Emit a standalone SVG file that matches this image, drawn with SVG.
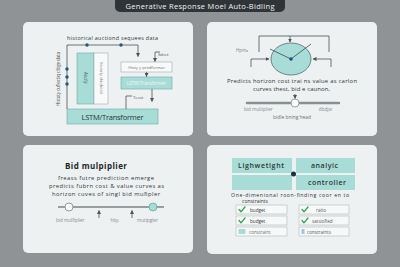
<svg xmlns="http://www.w3.org/2000/svg" width="400" height="267" viewBox="0 0 400 267">
<style>
.bg{fill:#8f9396}
.panel{fill:#eef1f2}
.teal{fill:#a8dcd6;stroke:#6aaaa4;stroke-width:0.6}
.tealf{fill:#a8dcd6}
.wbox{fill:#f8f9f9;stroke:#a3a9ac;stroke-width:0.6}
.ln{stroke:#4d5356;stroke-width:0.8;fill:none}
.t{font-family:"Open Sans","Liberation Sans",sans-serif;fill:#2f3436}
.g{fill:#858b8e}
.dot{fill:#1f5a7a}
.cb{fill:#f7f8f8;stroke:#b3b8bb;stroke-width:0.6}
.chk{fill:none;stroke:#2ea84c;stroke-width:1.3;stroke-linecap:round;stroke-linejoin:round}
</style>
<defs>
<marker id="ah" markerWidth="4" markerHeight="4" refX="3.5" refY="2" orient="auto" markerUnits="userSpaceOnUse"><path d="M0,0 L4,2 L0,4 z" fill="#4d5356"/></marker>
</defs>
<rect class="bg" x="0" y="0" width="400" height="267"/>

<g id="title">
<rect x="115" y="-6" width="170" height="18" rx="5" fill="#2e3438"/>
<text class="t" x="200" y="8.5" font-size="7.5" style="fill:#f0f2f2" text-anchor="middle" textLength="149">Generative Response Moel Auto-Bidling</text>
</g>

<!-- Panel 1 -->
<g id="panel-sequence">
<rect class="panel" x="23" y="22" width="170" height="114" rx="5"/>
<text class="t" x="112.5" y="40" font-size="5.4" text-anchor="middle" textLength="91">historical auctiond sequees data</text>
<text class="t" transform="translate(59.5,79) rotate(-90)" font-size="4.6" text-anchor="middle" textLength="54" style="fill:#4a5053">Histoty cuflectiq ciltige data</text>
</g>
<g id="node-auctiy">
<rect class="teal" x="77" y="53" width="17" height="51"/>
<text class="t" transform="translate(84,78) rotate(90)" font-size="4.5" font-style="italic" text-anchor="middle" style="fill:#3f6462">Auctiy</text>
</g>
<g id="node-historiy">
<rect class="wbox" x="94" y="53" width="14" height="51"/>
<text class="t g" transform="translate(99.5,78) rotate(90)" font-size="4" text-anchor="middle" style="fill:#7d8386">Historiy shiqhedd</text>
</g>
<g id="node-predformar">
<rect class="wbox" x="121" y="62" width="51" height="10"/>
<text class="t" x="146.5" y="68.8" font-size="4.2" text-anchor="middle" style="fill:#6c7275">Histy y predformar</text>
</g>
<g id="node-lstw">
<rect class="teal" x="121" y="77" width="51" height="12"/>
<text class="t" x="146.5" y="84.6" font-size="4.5" text-anchor="middle" style="fill:#f4f8f8">LSTW/Transformer</text>
</g>
<g id="node-lstm">
<rect class="teal" x="67" y="109" width="91" height="15"/>
<text class="t" x="112.5" y="119.5" font-size="7.5" text-anchor="middle" textLength="62" style="fill:#2c3436">LSTM/Transformer</text>
</g>
<g id="labels-p1">
<text class="t" x="158" y="55.5" font-size="4.3" style="fill:#555b5e">Sdsct</text>
<text class="t" x="133" y="98.5" font-size="4.3" style="fill:#555b5e">Tesst</text>
</g>

<!-- Panel 2 -->
<g id="panel-horizon">
<rect class="panel" x="207" y="22" width="170" height="114" rx="5"/>
<text class="t" x="236" y="52" font-size="4.5" style="fill:#7d8386">Hpmₐ</text>
<text class="t" x="292" y="83" font-size="5.9" text-anchor="middle" textLength="130">Predicts horizon cost trai ns value as carlon</text>
<text class="t" x="291.5" y="91" font-size="5.9" text-anchor="middle" textLength="77">curves thest, bid e caunon,</text>
</g>
<g id="node-circle">
<ellipse cx="291" cy="59" rx="20" ry="16" fill="#a8dcd6" stroke="#4f6e6d" stroke-width="0.8"/>
<path d="M270,49 L291,59 L311,44" fill="none" stroke="#3f4a4c" stroke-width="0.8"/>
<circle cx="291" cy="59" r="1.8" fill="#1f4f8a"/>
</g>
<g id="node-slider2">
<line x1="247" y1="103" x2="339" y2="103" stroke="#8a8f92" stroke-width="2.5" stroke-linecap="round"/>
<circle cx="295" cy="103" r="4" fill="#fbfcfc" stroke="#8a8f92" stroke-width="0.8"/>
<text class="t" x="244" y="111" font-size="4.6" style="fill:#858b8e">bid multiplier</text>
<text class="t" x="332" y="111" font-size="4.6" text-anchor="end" style="fill:#858b8e">dbdjw</text>
<text class="t" x="292" y="119" font-size="4.9" text-anchor="middle" style="fill:#6c7275">bidle bning head</text>
</g>

<!-- Panel 3 -->
<g id="panel-multiplier">
<rect class="panel" x="23" y="145" width="170" height="108" rx="5"/>
<text class="t" x="65" y="168.5" font-size="8" font-weight="bold" textLength="62" style="fill:#222829">Bid mulpiplier</text>
<text class="t" x="106" y="180" font-size="5.8" text-anchor="middle" textLength="96">freass futre prediction emerge</text>
<text class="t" x="106.5" y="188" font-size="5.8" text-anchor="middle" textLength="115">predicts fubrn cost &amp; value curves as</text>
<text class="t" x="106" y="196" font-size="5.8" text-anchor="middle" textLength="108">horizon cuves of singl bid mufipler</text>
</g>
<g id="node-slider3">
<line x1="58" y1="207" x2="164" y2="207" stroke="#7d8386" stroke-width="1.4"/>
<circle cx="69" cy="207" r="4" fill="#fbfcfc" stroke="#7d8386" stroke-width="0.8"/>
<circle cx="153" cy="207" r="4" fill="#a8dcd6" stroke="#6aaaa4" stroke-width="0.8"/>
<text class="t" x="56" y="222" font-size="4.6" style="fill:#858b8e">bid mulfiplier</text>
<text class="t" x="115" y="222" font-size="4.6" text-anchor="middle" style="fill:#858b8e">hby.</text>
<text class="t" x="137" y="222" font-size="4.6" style="fill:#858b8e">mutipgler</text>
</g>

<!-- Panel 4 -->
<g id="panel-controller">
<rect class="panel" x="207" y="145" width="170" height="109" rx="5"/>
<text class="t" x="231" y="197" font-size="5.2" textLength="118">One-dimenional roon-finding coor en to</text>
<text class="t" x="242" y="203" font-size="5">constraints</text>
</g>
<g id="node-lighwetight">
<rect class="tealf" x="232" y="158" width="60" height="15"/>
<text class="t" x="261" y="168.4" font-size="7" font-weight="600" text-anchor="middle" textLength="46">Lighwetight</text>
</g>
<g id="node-analyic">
<rect class="tealf" x="296" y="158" width="59" height="15"/>
<text class="t" x="324.5" y="168.4" font-size="7" font-weight="600" text-anchor="middle" textLength="27">analyic</text>
</g>
<g id="node-blank">
<rect class="tealf" x="232" y="175" width="60" height="15"/>
</g>
<g id="node-controller">
<rect class="tealf" x="296" y="175" width="59" height="15"/>
<text class="t" x="327" y="185.4" font-size="7" font-weight="600" text-anchor="middle" textLength="38">controller</text>
</g>
<g id="node-hub">
<circle cx="293.5" cy="174" r="2.5" fill="#1c3040"/>
</g>
<g id="checklist">
<rect class="cb" x="236" y="205" width="51" height="9"/>
<rect class="cb" x="236" y="216" width="51" height="9"/>
<rect class="cb" x="236" y="227" width="51" height="9"/>
<rect class="cb" x="299" y="205" width="50" height="9"/>
<rect class="cb" x="299" y="216" width="50" height="9"/>
<rect class="cb" x="299" y="227" width="50" height="9"/>
<path class="chk" d="M239,209.5 L241,211.8 L245,207"/>
<path class="chk" d="M239,220.5 L241,222.8 L245,218"/>
<path class="chk" d="M302,209.5 L304,211.8 L308,207"/>
<path class="chk" d="M302,220.5 L304,222.8 L308,218"/>
<rect x="238.5" y="229" width="7" height="5" fill="#a8dcd6"/>
<rect x="301.5" y="229" width="3" height="5" fill="#9cc8e0"/>
<text class="t" x="250" y="211.6" font-size="4.6">budget</text>
<text class="t" x="250" y="222.6" font-size="4.6">budget</text>
<text class="t" x="249" y="233.6" font-size="4.6" style="fill:#6c7275">constraint</text>
<text class="t" x="316" y="211.6" font-size="4.6" style="fill:#555b5e">ratio</text>
<text class="t" x="312" y="222.6" font-size="4.6" style="fill:#555b5e">satsiofied</text>
<text class="t" x="307" y="233.6" font-size="4.6" style="fill:#555b5e">constraints</text>
</g>

<g id="connectors">
<path class="ln" d="M67,109 V45 H138 V56.5" marker-end="url(#ah)"/>
<path class="ln" d="M160,52 H155 V61.5" marker-end="url(#ah)"/>
<path class="ln" d="M146.5,72 V76.5" marker-end="url(#ah)"/>
<path class="ln" d="M152,89 V101.5" marker-end="url(#ah)"/>
<path class="ln" d="M126,109 V96 H132"/>
<circle class="dot" cx="87" cy="45" r="1.7"/>
<circle class="dot" cx="121" cy="45" r="1.7"/>
<circle class="dot" cx="67" cy="69" r="1.7"/>
<circle class="dot" cx="67" cy="77" r="1.7"/>
<circle class="dot" cx="67" cy="84" r="1.7"/>
<path class="ln" d="M259,52 V36 H329 V52"/>
<path class="ln" d="M290,36 V42" marker-end="url(#ah)"/>
<path class="ln" d="M251,67 V59 H269" marker-end="url(#ah)"/>
<path class="ln" d="M331,67 V59 H313" marker-end="url(#ah)"/>
<path class="ln" d="M295,94 V98.5" marker-end="url(#ah)"/>
<path class="ln" d="M99,218 V210.5" marker-end="url(#ah)"/>
<path class="ln" d="M132,218 V210.5" marker-end="url(#ah)"/>
</g>
</svg>
